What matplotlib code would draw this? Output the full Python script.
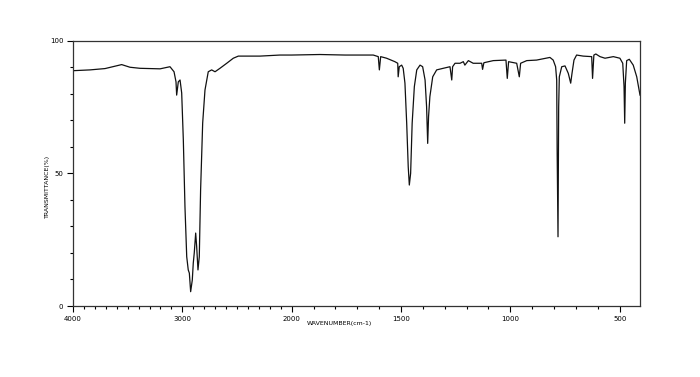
import numpy as np
import matplotlib.pyplot as plt
from matplotlib.ticker import FixedLocator, MultipleLocator

# IR spectrum
wavenumber = [4000, 3845, 3707, 3555, 3479, 3387, 3204, 3113, 3076, 3058,
              3052, 3037, 3021, 3006, 2991, 2976, 2960, 2946, 2936, 2924,
              2909, 2900, 2891, 2878, 2869, 2857, 2845, 2833, 2814, 2793,
              2763, 2732, 2701, 2656, 2594, 2534, 2488, 2290, 2107, 2000,
              1871, 1756, 1688, 1627, 1604, 1599, 1593, 1566, 1528, 1515,
              1513, 1508, 1497, 1490, 1482, 1474, 1467, 1462, 1456, 1449,
              1439, 1428, 1413, 1401, 1390, 1383, 1378, 1374, 1368, 1355,
              1337, 1307, 1276, 1268, 1264, 1253, 1230, 1215, 1208, 1192,
              1170, 1131, 1127, 1121, 1078, 1020, 1014, 1008, 971, 959,
              953, 925, 880, 819, 804, 793, 788, 786, 782, 779,
              776, 765, 750, 735, 724, 718, 709, 697, 667, 628,
              624, 618, 609, 590, 567, 529, 499, 486, 480, 477,
              474, 468, 456, 438, 422, 407]
transmittance = [88.7, 89.0, 89.5, 91.0, 90.0, 89.6, 89.4, 90.2, 88.3, 84.5,
                 79.5, 84.5, 85.2, 80.3, 62.6, 37.4, 18.6, 13.6, 12.4, 5.4,
                 9.8, 16.2, 20.0, 27.5, 22.4, 13.6, 18.6, 43.7, 69.0, 81.4,
                 88.3, 89.0, 88.3, 89.6, 91.5, 93.4, 94.2, 94.2, 94.6, 94.6,
                 94.8, 94.6, 94.6, 94.6, 94.0, 89.0, 94.0, 93.4, 92.1, 91.5,
                 86.4, 90.2, 90.8, 89.6, 84.0, 68.9, 52.5, 45.6, 50.0, 68.9,
                 82.7, 89.0, 90.8, 90.2, 85.2, 75.1, 61.3, 71.4, 78.9, 86.4,
                 89.0, 89.6, 90.2, 85.2, 90.2, 91.5, 91.5, 92.1, 90.8, 92.5,
                 91.5, 91.5, 89.2, 91.7, 92.5, 92.7, 85.8, 92.1, 91.5, 86.4,
                 91.5, 92.5, 92.7, 93.7, 92.7, 90.2, 85.2, 58.8, 26.1, 75.0,
                 86.4, 90.2, 90.5, 87.7, 84.0, 87.7, 92.7, 94.6, 94.2, 94.0,
                 85.8, 94.6, 95.0, 94.0, 93.4, 94.0, 93.4, 91.5, 82.7, 68.9,
                 84.0, 92.5, 93.0, 90.8, 86.4, 79.5]

xticks = [4000, 3000, 2000, 1500, 1000, 500]
yticks = [0, 50, 100]


# scale halves above 2000 cm-1
def fwd(w):
    w = np.asarray(w, dtype=float)
    return np.where(w >= 2000, 2000 + (w - 2000) * 0.5, w)


def inv(u):
    u = np.asarray(u, dtype=float)
    return np.where(u >= 2000, 2000 + (u - 2000) * 2.0, u)


fig = plt.figure(figsize=(7, 3.77), dpi=100)
ax = fig.add_axes([0.1043, 0.1883, 0.81, 0.7037])
ax.set_xscale('function', functions=(fwd, inv))

ax.plot(wavenumber, transmittance, color='#111111', lw=0.9)

ax.set_xlim(4000, 407)
ax.set_ylim(0, 100)

ax.xaxis.set_major_locator(FixedLocator(xticks))
ax.xaxis.set_minor_locator(FixedLocator(np.arange(500, 4000, 100)))
ax.set_xticklabels([str(t) for t in xticks])
ax.yaxis.set_major_locator(FixedLocator(yticks))
ax.yaxis.set_minor_locator(MultipleLocator(10))
ax.set_yticklabels([str(t) for t in yticks])

ax.tick_params(which='major', length=4, width=0.8, labelsize=5, pad=3)
ax.tick_params(which='minor', length=2.5, width=0.8)
ax.tick_params(top=False, right=False, which='both')

for s in ax.spines.values():
    s.set_linewidth(0.9)
    s.set_color('#333333')

ax.set_xlabel('WAVENUMBER(cm-1)', fontsize=4.5)
ax.xaxis.set_label_coords(0.47, -0.055)
ax.set_ylabel('TRANSMITTANCE(%)', fontsize=4.5)
ax.yaxis.set_label_coords(-0.04, 0.45)

fig.savefig('out.png', dpi=100)
